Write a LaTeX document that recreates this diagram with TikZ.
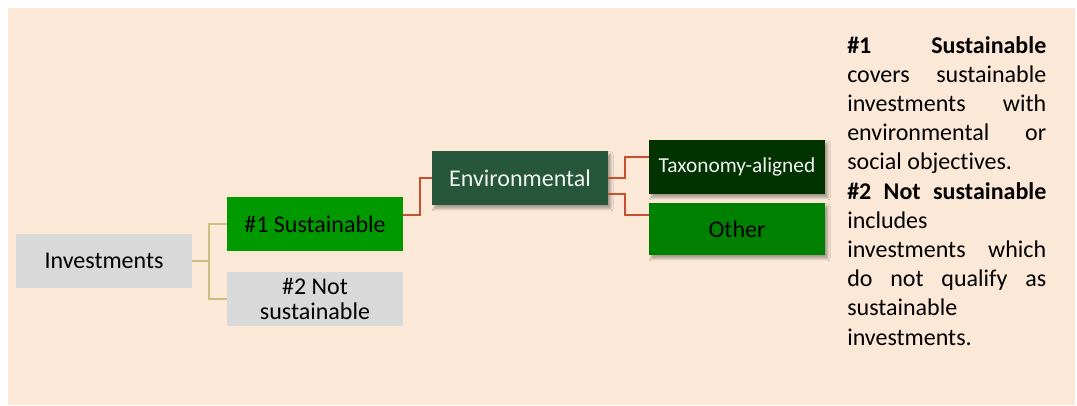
\documentclass[tikz,border=0pt]{standalone}
\usepackage{fontspec}
\setmainfont{Carlito}[Ligatures=NoCommon]
\usepackage{tikz}
\usetikzlibrary{shadows.blur}

\definecolor{bgbeige}{RGB}{251,232,215}
\definecolor{boxgray}{RGB}{217,217,217}
\definecolor{susgreen}{RGB}{0,153,0}
\definecolor{envgreen}{RGB}{38,87,60}
\definecolor{taxgreen}{RGB}{0,51,0}
\definecolor{othgreen}{RGB}{0,128,0}
\definecolor{linetan}{RGB}{206,190,128}
\definecolor{lineorange}{RGB}{200,78,48}

\begin{document}
\begin{tikzpicture}[x=0.75pt, y=-0.75pt,
                box/.style={minimum width=132pt, minimum height=40.5pt, inner sep=0pt, align=center,
                    font=\fontsize{18}{19}\selectfont},
                shadowed/.style={blur shadow={shadow xshift=2pt, shadow yshift=-2.5pt, shadow blur steps=6, shadow opacity=35}},
                tanline/.style={linetan, line width=1.4pt},
                orangeline/.style={lineorange, line width=1.4pt}]
                \useasboundingbox (0, 0) rectangle (1077, 405);
                \fill[bgbeige] (8, 8) rectangle (1075, 405);

                \node[box, fill=boxgray] (inv) at (104, 261) {Investments};
                \node[box, fill=susgreen] (sus) at (315, 224) {\#1 Sustainable};
                \node[box, fill=boxgray] (nsus) at (315, 299) {\#2 Not\\sustainable};

                \node[box, shadowed, fill=envgreen, text=white!95!black] (env) at (520, 178) {Environmental};
                \node[box, shadowed, fill=taxgreen, text=white!95!black, font=\fontsize{16}{18}\selectfont] (tax) at (737, 167) {Taxonomy-aligned};
                \node[box, shadowed, fill=othgreen, minimum height=39pt] (oth) at (737, 229) {Other};

                \draw[tanline] (inv.east) -- ++(17, 0) |- (sus.west);
                \draw[tanline] (inv.east) -- ++(17, 0) |- (nsus.west);

                \draw[orangeline] ([yshift=6.75pt]sus.east) -- ++(17, 0) |- (env.west);
                \draw[orangeline] (env.east) -- ++(17, 0) |- ([yshift=7.5pt]tax.west);
                \draw[orangeline] ([yshift=-12pt]env.east) -- ++(17, 0) |- ([yshift=10.5pt]oth.west);

                \node[anchor=north west, inner sep=0pt, text width=149.25pt, align=justify,
                    font=\fontsize{18}{21.9}\selectfont] (note) at (847, 36)
                    {\hyphenpenalty=10000
                    \textbf{\#1 Sustainable}\linebreak covers sustainable\linebreak investments with\linebreak
                    environmental or\linebreak social objectives.\par
                    \textbf{\#2 Not sustainable}\linebreak includes\newline investments which\linebreak
                    do not qualify as\linebreak sustainable\newline investments.};
            \end{tikzpicture}
\end{document}
